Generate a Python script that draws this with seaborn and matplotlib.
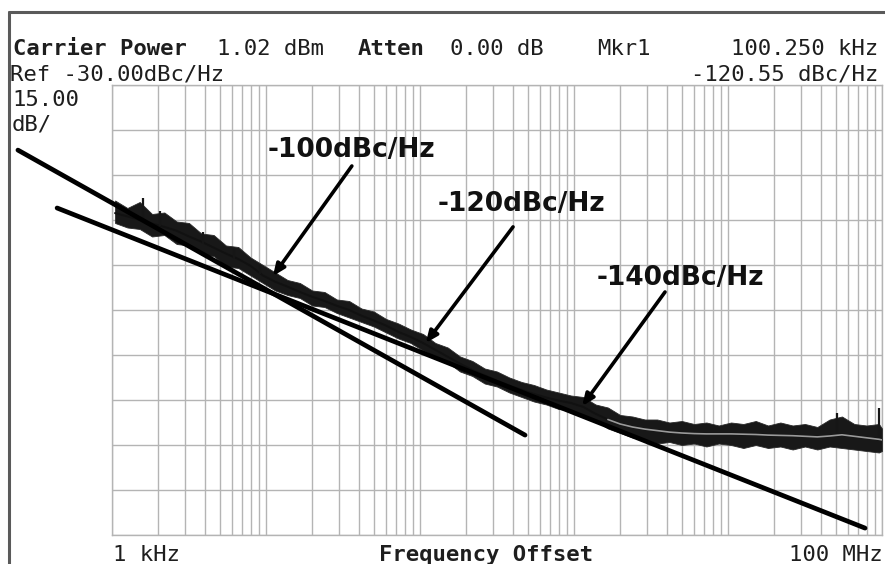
import numpy as np
import pandas as pd
import matplotlib
matplotlib.use("Agg")
import matplotlib.pyplot as plt
from matplotlib.lines import Line2D
import seaborn as sns

# ---- measured phase-noise sweep (offset frequency in Hz, level in dBc/Hz) ----
freq_hz = [1047, 1259, 1514, 1820, 2188, 2630, 3162, 3802, 4571, 5495,
           6607, 7943, 9550, 11480, 13800, 16600, 19950, 23990, 28840, 34670,
           41690, 50120, 60260, 72440, 87100, 104700, 125900, 151400, 182000, 218800,
           263000, 316200, 380200, 457100, 549500, 660700, 794300, 955000, 1.148e6, 1.380e6,
           1.660e6, 1.995e6, 2.399e6, 2.884e6, 3.467e6, 4.169e6, 5.012e6, 6.026e6, 7.244e6, 8.710e6,
           1.047e7, 1.259e7, 1.514e7, 1.820e7, 2.188e7, 2.630e7, 3.162e7, 3.802e7, 4.571e7, 5.495e7,
           6.607e7, 7.943e7, 9.550e7, 1.0e8]
# averaged trace
level_dbc = [-77.7, -78.8, -80.0, -81.2, -82.3, -83.6, -85.5, -87.2, -89.2, -91.2,
             -93.0, -95.3, -98.5, -100.6, -102.2, -104.0, -105.6, -107.0, -108.6, -110.0,
             -111.9, -113.5, -115.2, -117.3, -119.0, -121.0, -123.3, -125.6, -127.9, -130.0,
             -131.8, -133.6, -135.2, -136.6, -138.0, -139.2, -140.2, -141.0, -142.3, -144.6,
             -146.5, -148.0, -149.0, -149.7, -150.2, -150.7, -151.0, -151.2, -151.3, -151.3,
             -151.3, -151.4, -151.5, -151.7, -151.8, -151.9, -152.1, -152.3, -152.0, -151.6,
             -152.1, -152.6, -153.1, -153.3]
# peaks and troughs of the raw sweep noise
upper_dbc = [-73.5, -76.0, -74.0, -78.0, -77.5, -80.5, -81.0, -84.5, -85.0, -88.5,
             -89.0, -92.5, -95.0, -97.5, -100.0, -101.0, -103.5, -104.0, -106.5, -107.0,
             -109.5, -110.5, -113.0, -114.5, -116.5, -118.0, -121.0, -122.5, -125.5, -127.0,
             -129.5, -130.5, -132.5, -134.0, -135.0, -136.5, -137.5, -138.5, -139.0, -141.5,
             -142.5, -145.0, -145.5, -146.5, -146.5, -147.5, -147.0, -148.0, -147.5, -148.5,
             -147.5, -148.0, -147.0, -148.5, -147.5, -148.5, -148.0, -149.0, -146.5, -145.5,
             -148.0, -148.5, -148.0, -149.5]
lower_dbc = [-81.0, -82.5, -83.0, -85.5, -85.0, -88.0, -88.5, -91.5, -92.0, -95.5,
             -96.0, -98.5, -101.0, -103.5, -105.0, -106.0, -108.5, -109.0, -111.0, -112.5,
             -114.0, -115.5, -117.5, -119.5, -121.0, -123.5, -125.5, -127.5, -130.5, -132.0,
             -134.5, -135.5, -137.5, -139.0, -140.5, -141.5, -143.0, -143.5, -145.5, -147.0,
             -149.5, -151.0, -152.5, -153.0, -154.5, -154.0, -155.0, -154.5, -155.5, -154.5,
             -155.0, -156.0, -155.0, -156.0, -155.5, -156.5, -155.5, -156.5, -155.5, -156.0,
             -156.5, -157.0, -157.5, -157.0]
# isolated spurs (frequency, base level, peak level)
spur_hz = [1.59e3, 2.05e3, 3.9e3, 6.2e3, 9.2e3, 5.1e7, 9.6e7]
spur_base = [-81.0, -82.0, -88.0, -93.0, -98.0, -152.0, -153.0]
spur_peak = [-72.7, -77.0, -84.0, -89.5, -95.0, -144.3, -142.5]

# hand-drawn slope lines (two end points each)
slope1_hz = [245.0, 4.81e5]
slope1_dbc = [-56.7, -151.7]
slope2_hz = [440.0, 7.76e7]
slope2_dbc = [-76.0, -182.7]

# callouts: label, text anchor, arrow tail, arrow tip
callout_text = ["-100dBc/Hz", "-120dBc/Hz", "-140dBc/Hz"]
callout_pos = [(1.03e4, -59.0), (1.31e5, -77.0), (1.41e6, -101.7)]
callout_tail = [(3.61e4, -62.0), (4.02e5, -82.3), (3.9e6, -104.0)]
callout_tip = [(1.11e4, -98.7), (1.09e5, -121.0), (1.13e6, -142.0)]

# display settings of the analyzer screen
top_db = -35.0
db_per_div = 15.0
n_div = 10
f_start, f_stop = 1e3, 1e8

W, H = 885, 564
sns.set_style("white")
plt.rcParams["font.family"] = ["DejaVu Sans"]

fig = plt.figure(figsize=(W / 100, H / 100), dpi=100)
ax = fig.add_axes([112 / W, 1 - 535 / H, (882 - 112) / W, (535 - 85) / H])
ax.set_xscale("log")
ax.set_xlim(f_start, f_stop)
ax.set_ylim(top_db - db_per_div * n_div, top_db)

# graticule
grid_col = "#b4b4b4"
xt = [m * 10 ** d for d in range(3, 8) for m in range(1, 10)] + [1e8]
ax.set_xticks(xt)
ax.set_xticks([], minor=True)
ax.set_yticks([top_db - db_per_div * k for k in range(n_div + 1)])
ax.tick_params(length=0, labelbottom=False, labelleft=False)
ax.grid(True, color=grid_col, lw=1.0)
for s in ax.spines.values():
    s.set_color(grid_col)
    s.set_linewidth(1.0)

df = pd.DataFrame({"freq": freq_hz, "level": level_dbc,
                   "upper": upper_dbc, "lower": lower_dbc})

# noisy sweep band and trace
ax.fill_between(df["freq"], df["lower"], df["upper"], color="#181818", lw=0.6,
                edgecolor="#2a2a2a", zorder=3)
sns.lineplot(data=df, x="freq", y="level", ax=ax, color="#111111", lw=1.5, zorder=4)
ax.vlines(spur_hz, spur_base, spur_peak, color="#161616", lw=1.6, zorder=4)
flat = df[df["freq"] >= 1.4e6]
ax.plot(flat["freq"], flat["level"], color="#9a9a9a", lw=1.2, zorder=5)

# slope lines extend past the graticule
for fx, fy in [(slope1_hz, slope1_dbc), (slope2_hz, slope2_dbc)]:
    ax.plot(fx, fy, color="black", lw=3.4, solid_capstyle="round", clip_on=False, zorder=6)

# callouts
for txt, pos, tail, tip in zip(callout_text, callout_pos, callout_tail, callout_tip):
    ax.annotate("", xy=tip, xytext=tail,
                arrowprops=dict(arrowstyle="-|>,head_length=0.7,head_width=0.3",
                                color="black", lw=2.6, shrinkA=0, shrinkB=0),
                zorder=7)
    ax.text(pos[0], pos[1], txt, ha="left", va="baseline", fontsize=19,
            fontweight="bold", color="#111111", zorder=8)

ax.set_xlabel("")
ax.set_ylabel("")


def px(x, y):
    return x / W, 1 - y / H


mono = ["DejaVu Sans Mono"]
tcol = "#1e1e1e"
hdr = dict(fontsize=16, family=mono, color=tcol, va="baseline")
fig.text(*px(13, 55), "Carrier Power", fontweight="bold", **hdr)
fig.text(*px(217, 55), "1.02 dBm", **hdr)
fig.text(*px(358, 55), "Atten", fontweight="bold", **hdr)
fig.text(*px(450, 55), "0.00 dB", **hdr)
fig.text(*px(597, 55), "Mkr1", **hdr)
fig.text(*px(878, 55), "100.250 kHz", ha="right", **hdr)
fig.text(*px(10, 81), "Ref -30.00dBc/Hz", **hdr)
fig.text(*px(878, 81), "-120.55 dBc/Hz", ha="right", **hdr)
fig.text(*px(12, 106), "15.00", **hdr)
fig.text(*px(12, 131), "dB/", **hdr)
fig.text(*px(113, 561), "1 kHz", **hdr)
fig.text(*px(486, 561), "Frequency Offset", ha="center", fontweight="bold", **hdr)
fig.text(*px(883, 561), "100 MHz", ha="right", **hdr)

# screen bezel
bez = "#5a5a5a"
fig.add_artist(Line2D([9 / W, 1.0], [1 - 12 / H] * 2, color=bez, lw=2.2))
fig.add_artist(Line2D([9 / W] * 2, [0.0, 1 - 12 / H], color=bez, lw=2.2))

fig.savefig("out.png", dpi=100)
